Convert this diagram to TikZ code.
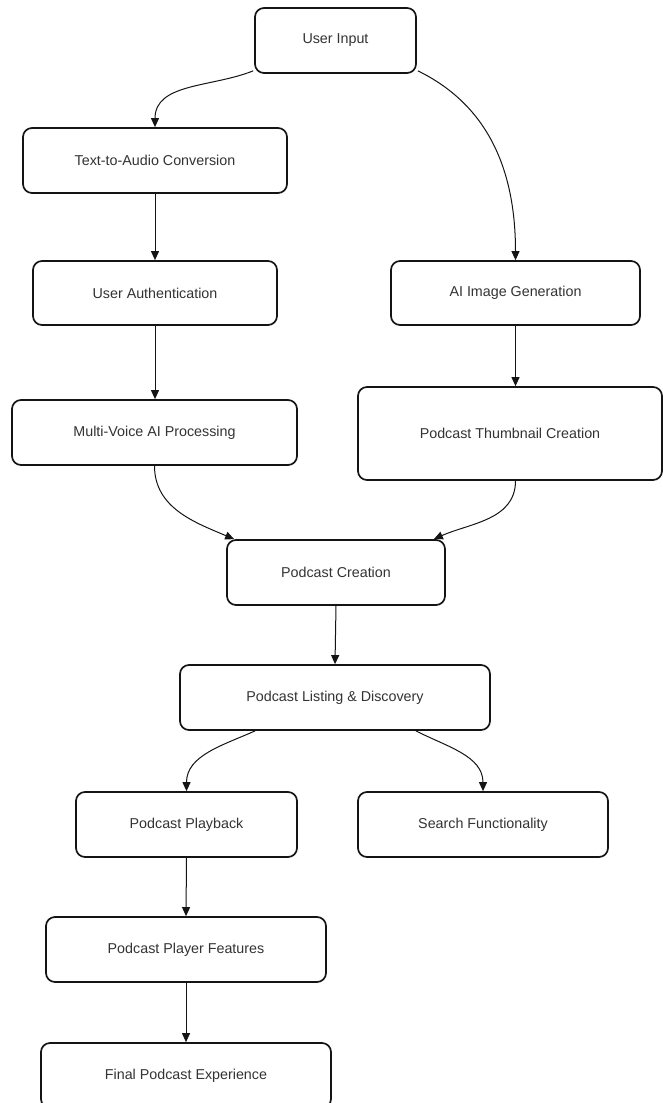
\documentclass[tikz,border=0pt]{standalone}
\usepackage{fontspec}
\setmainfont{Liberation Sans}
\usetikzlibrary{arrows.meta}
\definecolor{textc}{RGB}{51,51,51}
\definecolor{linec}{RGB}{20,20,20}
\tikzset{
  box/.style={draw=linec, line width=1.7pt, rounded corners=9pt, fill=white,
    text=textc, font=\fontsize{14.3}{17}\selectfont, inner sep=0pt},
  arr/.style={draw=linec, line width=1pt, -{Triangle[length=9pt,width=8pt]}}
}
\begin{document}
\begin{tikzpicture}[x=1pt,y=-1pt]
\useasboundingbox (0,0) rectangle (663,1103);
\node[box, minimum width=161pt, minimum height=65pt] (ui) at (335.5,40.5) {User Input};
\node[box, minimum width=264pt, minimum height=65pt] (tta) at (155,160.5) {Text-to-Audio Conversion};
\node[box, minimum width=244pt, minimum height=64pt] (ua) at (155,293) {User Authentication};
\node[box, minimum width=249pt, minimum height=64pt] (aig) at (515.5,293) {AI Image Generation};
\node[box, minimum width=285pt, minimum height=65pt] (mv) at (154.5,432.5) {Multi-Voice AI Processing};
\node[box, minimum width=304pt, minimum height=93pt] (th) at (510,433.5) {Podcast Thumbnail Creation};
\node[box, minimum width=218pt, minimum height=65pt] (pc) at (336,572.5) {Podcast Creation};
\node[box, minimum width=310pt, minimum height=65pt] (pld) at (335,697.5) {Podcast Listing \& Discovery};
\node[box, minimum width=221pt, minimum height=65pt] (pb) at (186.5,824.5) {Podcast Playback};
\node[box, minimum width=250pt, minimum height=65pt] (sf) at (483,824.5) {Search Functionality};
\node[box, minimum width=280pt, minimum height=65pt] (ppf) at (186,949.5) {Podcast Player Features};
\node[box, minimum width=290pt, minimum height=65pt] (fpe) at (186,1075.5) {Final Podcast Experience};

\draw[arr] ([xshift=-1pt,yshift=3pt]ui.south west) to[out=202,in=90] (tta.north);
\draw[arr] ([xshift=1pt,yshift=3pt]ui.south east) to[out=-26,in=90] (aig.north);
\draw[arr] (tta.south) -- (ua.north);
\draw[arr] (ua.south) -- (ua.south |- mv.north);
\draw[arr] (aig.south) -- (aig.south |- th.north);
\draw[arr] (mv.south) to[out=-90,in=157] ([xshift=8pt]pc.north west);
\draw[arr] (aig.south |- th.south) to[out=-90,in=24] ([xshift=-12pt]pc.north east);
\draw[arr] (pc.south) -- (pld.north);
\draw[arr] ([xshift=76pt]pld.south west) to[out=204,in=90] (pb.north);
\draw[arr] ([xshift=-75pt]pld.south east) to[out=-27,in=90] (sf.north);
\draw[arr] (pb.south) -- (ppf.north);
\draw[arr] (ppf.south) -- (fpe.north);
\end{tikzpicture}
\end{document}
